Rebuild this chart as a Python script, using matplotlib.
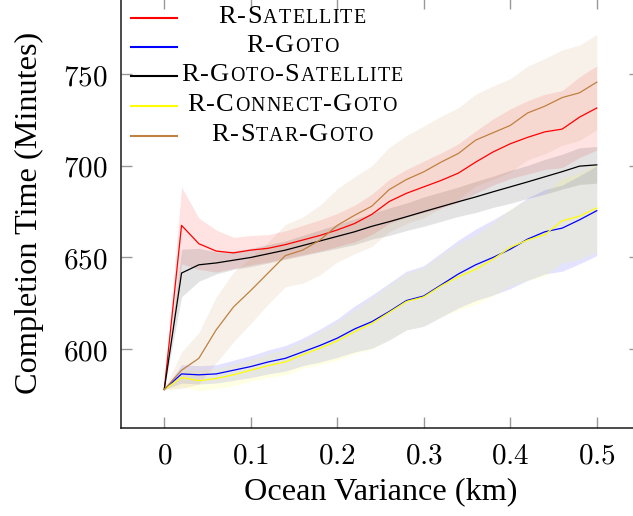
import numpy as np
import matplotlib.pyplot as plt
from matplotlib.lines import Line2D
from matplotlib.offsetbox import TextArea, HPacker, AnnotationBbox

plt.rcParams['mathtext.fontset'] = 'cm'

# ocean variance (km)
x = [0.00, 0.02, 0.04, 0.06, 0.08, 0.10, 0.12, 0.14, 0.16, 0.18, 0.20, 0.22, 0.24,
     0.26, 0.28, 0.30, 0.32, 0.34, 0.36, 0.38, 0.40, 0.42, 0.44, 0.46, 0.48, 0.50]

# mean completion time (minutes)
r_satellite = [578, 667.5, 657.5, 653.5, 652.5, 654, 655, 657, 659.5, 662, 665, 668.5, 673.5,
               680.5, 685, 688.5, 692, 696, 702, 707.5, 712, 715.5, 718.5, 720, 726.5, 731.5]
r_goto = [578, 586.5, 586, 586.5, 588.5, 590.5, 593, 595, 598.5, 602, 606, 611, 615,
          620.5, 626.5, 629, 635, 641, 646, 650, 654.5, 660, 664, 666, 670.5, 675.5]
r_goto_satellite = [578, 641.5, 646, 647, 648.5, 650, 652, 654, 656.5, 659, 661.5, 664, 667,
                    669.5, 672.2, 675, 677.7, 680.4, 683, 685.8, 688.5, 691.2, 694, 696.8, 699.8, 700.5]
r_connect_goto = [578, 584.5, 582.8, 584, 586, 588.5, 591, 593, 597, 600.5, 604.5, 609.5, 614,
                  620, 626, 628.5, 634.5, 639.5, 643.5, 649, 655.5, 659.5, 662.5, 670, 672.5, 677]
r_star_goto = [578, 588.5, 595, 610.5, 623, 632, 641.5, 651, 654, 659.5, 667.5, 673, 678,
               687, 692.5, 696.7, 702, 706.7, 714, 718, 722, 728.8, 732.5, 737.2, 739.8, 745.6]

# spread (half width of shaded band)
sd_satellite = [0, 21, 14, 11.5, 8.5, 8, 7.5, 7.5, 8, 8.5, 9, 10, 11,
                12, 13, 14, 15, 16, 17, 18, 19, 20, 20.5, 21, 22, 23]
sd_goto = [0, 5, 5, 5, 5.5, 6, 6.5, 7, 7.5, 9, 10.5, 12.5, 14.5,
           15.5, 16, 16.5, 17.5, 18.5, 19.5, 20.5, 21.5, 22.5, 23, 23.5, 24, 24.5]
sd_goto_satellite = [0, 13, 9, 6, 5, 5, 5, 5, 5.5, 6, 6.5, 7, 7,
                     7.5, 7.5, 8, 8, 8, 8.5, 8.5, 9, 9, 9.5, 9.5, 10, 10]
sd_connect_goto = [0, 5, 5.5, 5.5, 6, 6, 6.5, 7, 7.5, 9, 10.5, 12, 14,
                   15, 15.5, 16, 17, 18, 19, 20, 21, 22, 22.5, 23, 23.5, 24]
sd_star_goto = [0, 10, 14, 18, 19, 18, 17, 17, 18, 19, 20, 21, 22,
                23, 24, 25, 25, 25, 25, 25.5, 25.5, 25.5, 26, 26, 26, 26]

labels = ['R-Satellite', 'R-Goto', 'R-Goto-Satellite', 'R-Connect-Goto', 'R-Star-Goto']
means = [r_satellite, r_goto, r_goto_satellite, r_connect_goto, r_star_goto]
spreads = [sd_satellite, sd_goto, sd_goto_satellite, sd_connect_goto, sd_star_goto]
colors = ['red', 'blue', 'black', 'yellow', (0.75, 0.5, 0.25)]

SERIF = 'Liberation Serif'

fig = plt.figure(figsize=(6.33, 5.16), dpi=100)
ax = fig.add_axes([121 / 633, 88 / 516, 519 / 633, 430 / 516])

xs = np.array(x)
for m, s, c in zip(means, spreads, colors):
    m = np.array(m)
    s = np.array(s)
    ax.fill_between(xs, m - s, m + s, color=c, alpha=0.11, lw=0)
for m, c, lab in zip(means, colors, labels):
    ax.plot(xs, m, color=c, lw=0.9, label=lab)

ax.set_xlim(-0.05, 0.55)
ax.set_ylim(557, 791.5)
xt = [0, 0.1, 0.2, 0.3, 0.4, 0.5]
ax.set_xticks(xt)
ax.set_xticklabels(['$0$'] + ['$%.1f$' % v for v in xt[1:]])
yt = [600, 650, 700, 750]
ax.set_yticks(yt)
ax.set_yticklabels(['$%d$' % v for v in yt])
ax.tick_params(direction='in', length=8, width=1.0, color='0.6', top=True, right=True,
               labelsize=21, pad=10)
for sp in ax.spines.values():
    sp.set_linewidth(1.1)
    sp.set_color('0.1')

ax.set_xlabel('Ocean Variance (km)', fontsize=23.2, family=SERIF, labelpad=5)
ax.set_ylabel('Completion Time (Minutes)', fontsize=23.2, family=SERIF, labelpad=13.5)


# legend with small caps, centred text column
def small_caps_box(text, size, ratio=0.76, sep=0.8):
    boxes = []
    for ch in text:
        fs = size * ratio if ch.islower() else size
        boxes.append(TextArea(ch.upper(), textprops=dict(fontsize=fs, family=SERIF, color='black')))
    return HPacker(children=boxes, align='baseline', pad=0, sep=sep)


handles, labs = ax.get_legend_handles_labels()
row_y = [18, 47, 76, 106, 136]
for h, lab, yy in zip(handles, labs, row_y):
    fig.add_artist(Line2D([131 / 633, 177 / 633], [1 - yy / 516, 1 - yy / 516],
                          color=h.get_color(), lw=1.5))
    box = small_caps_box(lab, 19)
    ab = AnnotationBbox(box, (292, 516 - yy + 1), xycoords='figure pixels',
                        frameon=False, box_alignment=(0.5, 0.5), pad=0)
    fig.add_artist(ab)

fig.savefig('out.png', dpi=100)
